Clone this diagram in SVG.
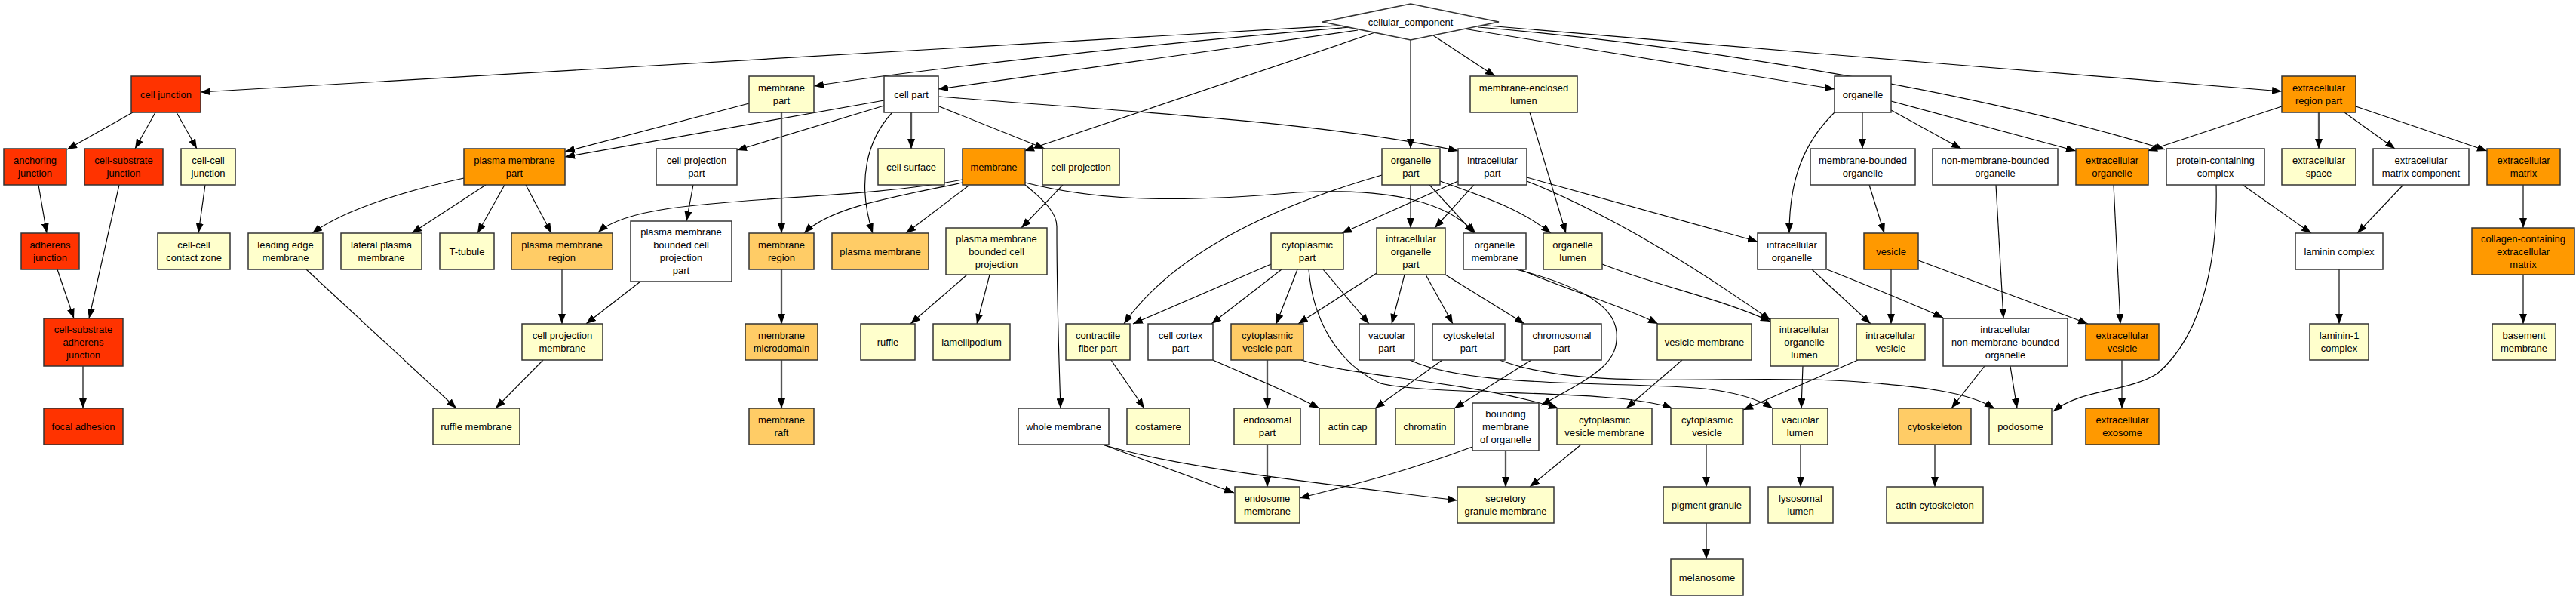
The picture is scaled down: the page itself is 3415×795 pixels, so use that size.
<svg xmlns="http://www.w3.org/2000/svg" width="3415" height="795" viewBox="0 0 3415 795">
<defs>
<marker id="a" markerWidth="14" markerHeight="10" refX="13" refY="5" orient="auto" markerUnits="userSpaceOnUse"><path d="M0,0 L13,5 L0,10 z" fill="#000"/></marker>
<style>
.n rect,.n polygon{stroke:#333;stroke-width:1.5}
.r{fill:#FF3300}.o{fill:#FF9900}.lo{fill:#FFCC66}.y{fill:#FFFFCC}.w{fill:#FFFFFF}
text{font-family:"Liberation Sans",Arial,sans-serif;font-size:13px;text-anchor:middle;fill:#000}
#edges path{fill:none;stroke:#000;stroke-width:1.15;marker-end:url(#a)}
#edges path.g{stroke:#555;stroke-width:2.3}
</style>
</defs>
<rect width="3415" height="795" fill="#fff"/>
<g id="edges">
<path d="M1790,33 L266,122"/>
<path d="M1790,36 C1500,60 1200,95 1079,114"/>
<path d="M1800,40 L1244,118"/>
<path d="M1823,43 L1358,200"/>
<path d="M1870,53 L1870,197"/>
<path d="M1900,47 L1982,101"/>
<path d="M1940,38 L2432,118"/>
<path d="M1960,33 C2300,62 2700,95 3025,121"/>
<path d="M1960,36 C2300,65 2650,130 2870,198"/>
<path d="M1172,133 L749,208"/>
<path d="M993,137 L749,201"/>
<path d="M1172,140 L977,199"/>
<path class="g" d="M1208,149 L1208,197"/>
<path d="M1245,141 L1385,197"/>
<path d="M1182,150 C1150,185 1135,240 1157,309"/>
<path d="M1245,128 C1450,145 1750,160 1933,200"/>
<path d="M1276,238 C1100,272 850,255 793,308"/>
<path d="M1276,242 C1180,262 1100,275 1066,309"/>
<path d="M1284,246 L1201,309"/>
<path d="M1359,245 C1390,270 1401,285 1401,300 C1401,400 1404,480 1406,541"/>
<path d="M1359,242 C1450,265 1550,270 1720,255 C1850,248 1920,270 1956,309"/>
<path d="M1409,245 L1354,302"/>
<path d="M615,236 C550,250 460,275 414,309"/>
<path d="M644,245 L546,309"/>
<path d="M669,245 L633,309"/>
<path d="M697,245 L731,309"/>
<path d="M919,245 L910,293"/>
<path d="M745,357 L745,429"/>
<path d="M849,373 L777,429"/>
<path d="M406,357 L605,541"/>
<path d="M720,477 L657,541"/>
<path class="g" d="M1036,149 L1036,309"/>
<path class="g" d="M1036,357 L1036,429"/>
<path class="g" d="M1036,477 L1036,541"/>
<path d="M1282,364 L1207,429"/>
<path d="M1312,364 L1295,429"/>
<path d="M176,149 L89,198"/>
<path d="M206,149 L179,197"/>
<path d="M234,149 L261,197"/>
<path d="M51,245 L62,309"/>
<path d="M272,245 L263,309"/>
<path d="M76,357 L98,422"/>
<path d="M158,245 L118,422"/>
<path d="M110,485 L110,541"/>
<path d="M1870,245 L1870,302"/>
<path d="M1895,245 L1954,309"/>
<path d="M1909,240 C1980,265 2020,280 2056,309"/>
<path d="M1832,232 C1700,270 1560,330 1490,429"/>
<path d="M1933,240 L1779,309"/>
<path d="M1954,245 L1902,302"/>
<path d="M2024,235 L2330,320"/>
<path d="M2024,240 C2150,290 2270,370 2347,424"/>
<path d="M2028,149 L2076,309"/>
<path d="M2124,350 C2200,380 2280,395 2347,426"/>
<path d="M2010,357 C2080,375 2140,400 2143,440 C2146,480 2120,495 2043,537"/>
<path d="M2015,357 C2080,385 2150,405 2198,429"/>
<path d="M1685,350 L1502,429"/>
<path d="M1699,357 L1606,429"/>
<path d="M1720,357 L1692,429"/>
<path d="M1754,357 L1815,429"/>
<path d="M1735,357 C1740,420 1770,480 1830,508 C1900,525 2150,515 2217,541"/>
<path d="M1825,362 L1721,429"/>
<path d="M1862,364 L1845,429"/>
<path d="M1890,364 L1926,429"/>
<path d="M1916,364 L2021,429"/>
<path class="g" d="M1680,477 L1680,541"/>
<path class="g" d="M1680,589 L1680,645"/>
<path d="M1725,477 C1800,500 1950,505 2066,541"/>
<path d="M1608,477 C1660,500 1710,520 1749,541"/>
<path d="M1912,477 L1823,541"/>
<path d="M2030,477 L1928,541"/>
<path d="M1869,477 C1950,515 2150,505 2260,515 C2300,520 2330,528 2350,541"/>
<path d="M1988,477 C2100,520 2300,495 2450,505 C2550,512 2610,520 2644,541"/>
<path d="M2230,477 L2156,541"/>
<path class="g" d="M1996,597 L1996,645"/>
<path d="M1952,592 C1850,630 1780,645 1723,660"/>
<path d="M2096,589 L2028,645"/>
<path d="M1462,589 C1560,620 1750,640 1932,663"/>
<path d="M1462,589 L1636,653"/>
<path d="M1473,477 L1517,541"/>
<path d="M2262,589 L2262,645"/>
<path d="M2262,693 L2262,741"/>
<path d="M2432,149 C2390,190 2372,240 2372,309"/>
<path d="M2469,149 L2469,197"/>
<path d="M2507,146 L2600,197"/>
<path d="M2507,134 L2752,200"/>
<path d="M2478,245 L2498,309"/>
<path d="M2646,245 L2656,422"/>
<path d="M2802,245 L2811,429"/>
<path d="M2402,357 L2480,429"/>
<path d="M2422,357 C2480,380 2530,400 2576,421"/>
<path d="M2507,357 L2507,429"/>
<path d="M2543,345 L2768,429"/>
<path d="M2813,477 L2813,541"/>
<path d="M2631,485 L2587,541"/>
<path d="M2665,485 L2674,541"/>
<path d="M2938,245 C2940,330 2925,440 2860,495 C2820,520 2760,515 2722,545"/>
<path d="M2463,477 L2311,543"/>
<path d="M2390,485 L2388,541"/>
<path d="M2565,589 L2565,645"/>
<path d="M2387,589 L2387,645"/>
<path d="M3025,141 L2847,200"/>
<path class="g" d="M3074,149 L3074,197"/>
<path d="M3108,149 L3175,197"/>
<path d="M3123,141 L3297,200"/>
<path d="M2973,245 L3064,309"/>
<path d="M3186,245 L3125,309"/>
<path d="M3101,357 L3101,429"/>
<path d="M3345,245 L3345,302"/>
<path d="M3345,364 L3345,429"/>
</g>
<g id="n_root" class="n"><polygon class="w" points="1753,29 1870,5 1987,29 1870,53"/><text x="1870" y="33.5">cellular_component</text></g>
<g id="n_cj" class="n"><rect class="r" x="174" y="101" width="92" height="48"/><text x="220" y="129.5">cell junction</text></g>
<g id="n_aj" class="n"><rect class="r" x="5" y="197" width="83" height="48"/><text x="46.5" y="217">anchoring<tspan x="46.5" dy="17">junction</tspan></text></g>
<g id="n_csj" class="n"><rect class="r" x="112" y="197" width="104" height="48"/><text x="164" y="217">cell-substrate<tspan x="164" dy="17">junction</tspan></text></g>
<g id="n_ccj" class="n"><rect class="y" x="240" y="197" width="72" height="48"/><text x="276" y="217">cell-cell<tspan x="276" dy="17">junction</tspan></text></g>
<g id="n_adj" class="n"><rect class="r" x="28" y="309" width="77" height="48"/><text x="66.5" y="329">adherens<tspan x="66.5" dy="17">junction</tspan></text></g>
<g id="n_cccz" class="n"><rect class="y" x="209" y="309" width="96" height="48"/><text x="257" y="329">cell-cell<tspan x="257" dy="17">contact zone</tspan></text></g>
<g id="n_lem" class="n"><rect class="y" x="329" y="309" width="99" height="48"/><text x="378.5" y="329">leading edge<tspan x="378.5" dy="17">membrane</tspan></text></g>
<g id="n_lpm" class="n"><rect class="y" x="452" y="309" width="107" height="48"/><text x="505.5" y="329">lateral plasma<tspan x="505.5" dy="17">membrane</tspan></text></g>
<g id="n_csaj" class="n"><rect class="r" x="58" y="422" width="105" height="63"/><text x="110.5" y="441">cell-substrate<tspan x="110.5" dy="17">adherens</tspan><tspan x="110.5" dy="17">junction</tspan></text></g>
<g id="n_fa" class="n"><rect class="r" x="58" y="541" width="105" height="48"/><text x="110.5" y="569.5">focal adhesion</text></g>
<g id="n_mp" class="n"><rect class="y" x="993" y="101" width="86" height="48"/><text x="1036" y="121">membrane<tspan x="1036" dy="17">part</tspan></text></g>
<g id="n_pmp" class="n"><rect class="o" x="615" y="197" width="134" height="48"/><text x="682" y="217">plasma membrane<tspan x="682" dy="17">part</tspan></text></g>
<g id="n_cpp" class="n"><rect class="w" x="870" y="197" width="107" height="48"/><text x="923.5" y="217">cell projection<tspan x="923.5" dy="17">part</tspan></text></g>
<g id="n_tt" class="n"><rect class="y" x="583" y="309" width="72" height="48"/><text x="619" y="337.5">T-tubule</text></g>
<g id="n_pmr" class="n"><rect class="lo" x="678" y="309" width="134" height="48"/><text x="745" y="329">plasma membrane<tspan x="745" dy="17">region</tspan></text></g>
<g id="n_pmbcpp" class="n"><rect class="w" x="836" y="293" width="134" height="80"/><text x="903" y="312">plasma membrane<tspan x="903" dy="17">bounded cell</tspan><tspan x="903" dy="17">projection</tspan><tspan x="903" dy="17">part</tspan></text></g>
<g id="n_mr" class="n"><rect class="lo" x="993" y="309" width="86" height="48"/><text x="1036" y="329">membrane<tspan x="1036" dy="17">region</tspan></text></g>
<g id="n_cpm" class="n"><rect class="y" x="692" y="429" width="107" height="48"/><text x="745.5" y="449">cell projection<tspan x="745.5" dy="17">membrane</tspan></text></g>
<g id="n_mmd" class="n"><rect class="lo" x="988" y="429" width="96" height="48"/><text x="1036" y="449">membrane<tspan x="1036" dy="17">microdomain</tspan></text></g>
<g id="n_rm" class="n"><rect class="y" x="574" y="541" width="115" height="48"/><text x="631.5" y="569.5">ruffle membrane</text></g>
<g id="n_raft" class="n"><rect class="lo" x="993" y="541" width="86" height="48"/><text x="1036" y="561">membrane<tspan x="1036" dy="17">raft</tspan></text></g>
<g id="n_cp" class="n"><rect class="w" x="1172" y="101" width="72" height="48"/><text x="1208" y="129.5">cell part</text></g>
<g id="n_cs" class="n"><rect class="y" x="1164" y="197" width="88" height="48"/><text x="1208" y="225.5">cell surface</text></g>
<g id="n_mem" class="n"><rect class="o" x="1276" y="197" width="83" height="48"/><text x="1317.5" y="225.5">membrane</text></g>
<g id="n_cproj" class="n"><rect class="y" x="1382" y="197" width="102" height="48"/><text x="1433" y="225.5">cell projection</text></g>
<g id="n_pm" class="n"><rect class="lo" x="1103" y="309" width="128" height="48"/><text x="1167" y="337.5">plasma membrane</text></g>
<g id="n_pmbcp" class="n"><rect class="y" x="1254" y="302" width="134" height="62"/><text x="1321" y="320.5">plasma membrane<tspan x="1321" dy="17">bounded cell</tspan><tspan x="1321" dy="17">projection</tspan></text></g>
<g id="n_ruffle" class="n"><rect class="y" x="1141" y="429" width="72" height="48"/><text x="1177" y="457.5">ruffle</text></g>
<g id="n_lam" class="n"><rect class="y" x="1237" y="429" width="102" height="48"/><text x="1288" y="457.5">lamellipodium</text></g>
<g id="n_cfp" class="n"><rect class="y" x="1413" y="429" width="85" height="48"/><text x="1455.5" y="449">contractile<tspan x="1455.5" dy="17">fiber part</tspan></text></g>
<g id="n_ccp" class="n"><rect class="w" x="1522" y="429" width="86" height="48"/><text x="1565" y="449">cell cortex<tspan x="1565" dy="17">part</tspan></text></g>
<g id="n_cvp" class="n"><rect class="lo" x="1632" y="429" width="96" height="48"/><text x="1680" y="449">cytoplasmic<tspan x="1680" dy="17">vesicle part</tspan></text></g>
<g id="n_wm" class="n"><rect class="w" x="1350" y="541" width="120" height="48"/><text x="1410" y="569.5">whole membrane</text></g>
<g id="n_cost" class="n"><rect class="y" x="1494" y="541" width="83" height="48"/><text x="1535.5" y="569.5">costamere</text></g>
<g id="n_endp" class="n"><rect class="y" x="1636" y="541" width="88" height="48"/><text x="1680" y="561">endosomal<tspan x="1680" dy="17">part</tspan></text></g>
<g id="n_endm" class="n"><rect class="y" x="1637" y="645" width="86" height="48"/><text x="1680" y="665">endosome<tspan x="1680" dy="17">membrane</tspan></text></g>
<g id="n_mel" class="n"><rect class="y" x="1949" y="101" width="142" height="48"/><text x="2020" y="121">membrane-enclosed<tspan x="2020" dy="17">lumen</tspan></text></g>
<g id="n_op" class="n"><rect class="y" x="1832" y="197" width="77" height="48"/><text x="1870.5" y="217">organelle<tspan x="1870.5" dy="17">part</tspan></text></g>
<g id="n_ip" class="n"><rect class="w" x="1933" y="197" width="91" height="48"/><text x="1978.5" y="217">intracellular<tspan x="1978.5" dy="17">part</tspan></text></g>
<g id="n_cytp" class="n"><rect class="y" x="1685" y="309" width="96" height="48"/><text x="1733" y="329">cytoplasmic<tspan x="1733" dy="17">part</tspan></text></g>
<g id="n_iop" class="n"><rect class="y" x="1825" y="302" width="91" height="62"/><text x="1870.5" y="320.5">intracellular<tspan x="1870.5" dy="17">organelle</tspan><tspan x="1870.5" dy="17">part</tspan></text></g>
<g id="n_om" class="n"><rect class="w" x="1940" y="309" width="83" height="48"/><text x="1981.5" y="329">organelle<tspan x="1981.5" dy="17">membrane</tspan></text></g>
<g id="n_ol" class="n"><rect class="y" x="2046" y="309" width="78" height="48"/><text x="2085" y="329">organelle<tspan x="2085" dy="17">lumen</tspan></text></g>
<g id="n_vp" class="n"><rect class="w" x="1802" y="429" width="73" height="48"/><text x="1838.5" y="449">vacuolar<tspan x="1838.5" dy="17">part</tspan></text></g>
<g id="n_cskp" class="n"><rect class="w" x="1899" y="429" width="96" height="48"/><text x="1947" y="449">cytoskeletal<tspan x="1947" dy="17">part</tspan></text></g>
<g id="n_chp" class="n"><rect class="w" x="2018" y="429" width="105" height="48"/><text x="2070.5" y="449">chromosomal<tspan x="2070.5" dy="17">part</tspan></text></g>
<g id="n_vm" class="n"><rect class="y" x="2197" y="429" width="125" height="48"/><text x="2259.5" y="457.5">vesicle membrane</text></g>
<g id="n_ac" class="n"><rect class="y" x="1749" y="541" width="75" height="48"/><text x="1786.5" y="569.5">actin cap</text></g>
<g id="n_chr" class="n"><rect class="y" x="1850" y="541" width="78" height="48"/><text x="1889" y="569.5">chromatin</text></g>
<g id="n_bmo" class="n"><rect class="w" x="1952" y="534" width="88" height="63"/><text x="1996" y="553">bounding<tspan x="1996" dy="17">membrane</tspan><tspan x="1996" dy="17">of organelle</tspan></text></g>
<g id="n_cvm" class="n"><rect class="y" x="2064" y="541" width="126" height="48"/><text x="2127" y="561">cytoplasmic<tspan x="2127" dy="17">vesicle membrane</tspan></text></g>
<g id="n_cv" class="n"><rect class="y" x="2215" y="541" width="96" height="48"/><text x="2263" y="561">cytoplasmic<tspan x="2263" dy="17">vesicle</tspan></text></g>
<g id="n_sgm" class="n"><rect class="y" x="1932" y="645" width="128" height="48"/><text x="1996" y="665">secretory<tspan x="1996" dy="17">granule membrane</tspan></text></g>
<g id="n_pg" class="n"><rect class="y" x="2205" y="645" width="115" height="48"/><text x="2262.5" y="673.5">pigment granule</text></g>
<g id="n_melano" class="n"><rect class="y" x="2215" y="741" width="96" height="48"/><text x="2263" y="769.5">melanosome</text></g>
<g id="n_org" class="n"><rect class="w" x="2432" y="101" width="75" height="48"/><text x="2469.5" y="129.5">organelle</text></g>
<g id="n_mbo" class="n"><rect class="w" x="2400" y="197" width="139" height="48"/><text x="2469.5" y="217">membrane-bounded<tspan x="2469.5" dy="17">organelle</tspan></text></g>
<g id="n_nmbo" class="n"><rect class="w" x="2562" y="197" width="166" height="48"/><text x="2645" y="217">non-membrane-bounded<tspan x="2645" dy="17">organelle</tspan></text></g>
<g id="n_eo" class="n"><rect class="o" x="2752" y="197" width="96" height="48"/><text x="2800" y="217">extracellular<tspan x="2800" dy="17">organelle</tspan></text></g>
<g id="n_io" class="n"><rect class="w" x="2330" y="309" width="91" height="48"/><text x="2375.5" y="329">intracellular<tspan x="2375.5" dy="17">organelle</tspan></text></g>
<g id="n_ves" class="n"><rect class="o" x="2471" y="309" width="72" height="48"/><text x="2507" y="337.5">vesicle</text></g>
<g id="n_iol" class="n"><rect class="y" x="2347" y="422" width="90" height="63"/><text x="2392" y="441">intracellular<tspan x="2392" dy="17">organelle</tspan><tspan x="2392" dy="17">lumen</tspan></text></g>
<g id="n_iv" class="n"><rect class="y" x="2461" y="429" width="91" height="48"/><text x="2506.5" y="449">intracellular<tspan x="2506.5" dy="17">vesicle</tspan></text></g>
<g id="n_inmbo" class="n"><rect class="w" x="2576" y="422" width="165" height="63"/><text x="2658.5" y="441">intracellular<tspan x="2658.5" dy="17">non-membrane-bounded</tspan><tspan x="2658.5" dy="17">organelle</tspan></text></g>
<g id="n_ev" class="n"><rect class="o" x="2765" y="429" width="97" height="48"/><text x="2813.5" y="449">extracellular<tspan x="2813.5" dy="17">vesicle</tspan></text></g>
<g id="n_vl" class="n"><rect class="y" x="2350" y="541" width="73" height="48"/><text x="2386.5" y="561">vacuolar<tspan x="2386.5" dy="17">lumen</tspan></text></g>
<g id="n_csk" class="n"><rect class="lo" x="2517" y="541" width="96" height="48"/><text x="2565" y="569.5">cytoskeleton</text></g>
<g id="n_pod" class="n"><rect class="y" x="2637" y="541" width="83" height="48"/><text x="2678.5" y="569.5">podosome</text></g>
<g id="n_exo" class="n"><rect class="o" x="2765" y="541" width="97" height="48"/><text x="2813.5" y="561">extracellular<tspan x="2813.5" dy="17">exosome</tspan></text></g>
<g id="n_ll" class="n"><rect class="y" x="2344" y="645" width="86" height="48"/><text x="2387" y="665">lysosomal<tspan x="2387" dy="17">lumen</tspan></text></g>
<g id="n_acsk" class="n"><rect class="y" x="2501" y="645" width="128" height="48"/><text x="2565" y="673.5">actin cytoskeleton</text></g>
<g id="n_erp" class="n"><rect class="o" x="3025" y="101" width="98" height="48"/><text x="3074" y="121">extracellular<tspan x="3074" dy="17">region part</tspan></text></g>
<g id="n_pcc" class="n"><rect class="w" x="2872" y="197" width="130" height="48"/><text x="2937" y="217">protein-containing<tspan x="2937" dy="17">complex</tspan></text></g>
<g id="n_es" class="n"><rect class="y" x="3025" y="197" width="98" height="48"/><text x="3074" y="217">extracellular<tspan x="3074" dy="17">space</tspan></text></g>
<g id="n_ecmc" class="n"><rect class="w" x="3146" y="197" width="127" height="48"/><text x="3209.5" y="217">extracellular<tspan x="3209.5" dy="17">matrix component</tspan></text></g>
<g id="n_ecm" class="n"><rect class="o" x="3297" y="197" width="97" height="48"/><text x="3345.5" y="217">extracellular<tspan x="3345.5" dy="17">matrix</tspan></text></g>
<g id="n_lc" class="n"><rect class="w" x="3043" y="309" width="116" height="48"/><text x="3101" y="337.5">laminin complex</text></g>
<g id="n_cecm" class="n"><rect class="o" x="3277" y="302" width="136" height="62"/><text x="3345" y="320.5">collagen-containing<tspan x="3345" dy="17">extracellular</tspan><tspan x="3345" dy="17">matrix</tspan></text></g>
<g id="n_l1" class="n"><rect class="y" x="3062" y="429" width="78" height="48"/><text x="3101" y="449">laminin-1<tspan x="3101" dy="17">complex</tspan></text></g>
<g id="n_bm" class="n"><rect class="y" x="3304" y="429" width="84" height="48"/><text x="3346" y="449">basement<tspan x="3346" dy="17">membrane</tspan></text></g>
</svg>
